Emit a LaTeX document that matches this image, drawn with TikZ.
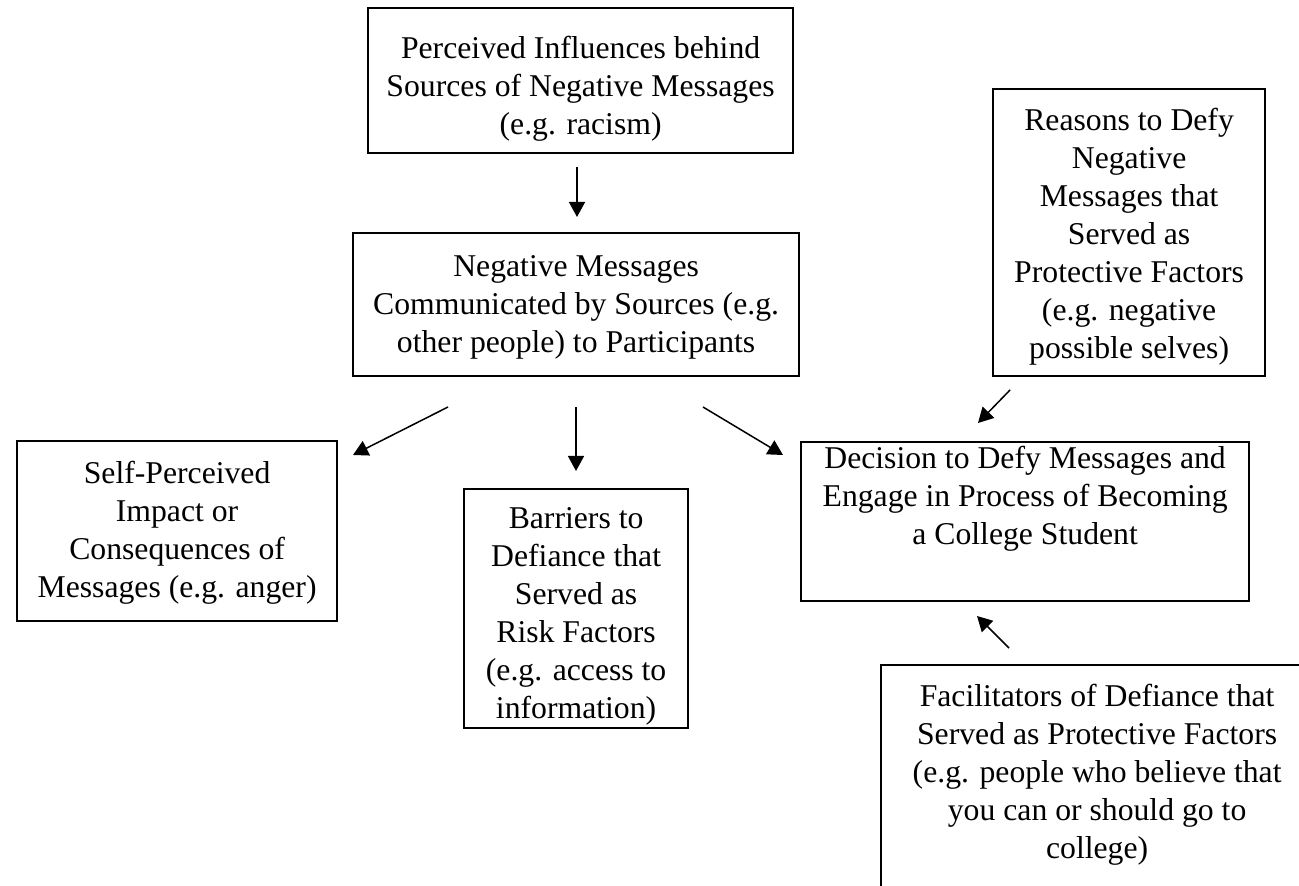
\documentclass[tikz,border=0pt]{standalone}
\usepackage{fontspec}
\setmainfont{Liberation Serif}
\usetikzlibrary{arrows.meta}
\newcommand{\boxtext}[4]{\parbox[t][#2][t]{#1}{\centering\vspace*{#3}\strut#4}}

\begin{document}
\begin{tikzpicture}[x=0.5pt, y=-0.5pt,
        box/.style={draw, line width=1.1pt, inner sep=0pt, anchor=north west,
            font=\fontsize{15.85pt}{19pt}\selectfont},
        arr/.style={-{Triangle[length=7.5pt, width=8pt]}, line width=0.75pt}]
            \useasboundingbox (0,0) rectangle (1299,886);
            \clip (0,0) rectangle (1299,886);

            \node[box] (infl) at (367,7) {\boxtext{212.5pt}{72.5pt}{11.7pt}{Perceived Influences behind\\Sources of Negative Messages\\(e.g. racism)}};
            \node[box] (msgs) at (352,232) {\boxtext{223pt}{71.5pt}{8.2pt}{Negative Messages\\Communicated by Sources (e.g.\\other people) to Participants}};
            \node[box] (self) at (16,440) {\boxtext{160pt}{90pt}{7.7pt}{Self-Perceived\\Impact or\\Consequences of\\Messages (e.g. anger)}};
            \node[box] (barr) at (463,488) {\boxtext{112pt}{119.5pt}{6.2pt}{Barriers to\\Defiance that\\Served as\\Risk Factors\\(e.g. access to\\information)}};
            \node[box] (reas) at (992,88) {\boxtext{136pt}{143.5pt}{7.2pt}{Reasons to Defy\\Negative\\Messages that\\Served as\\Protective Factors\\(e.g. negative\\possible selves)}};
            \node[box] (deci) at (800,441) {\boxtext{224pt}{79.5pt}{0pt}{Decision to Defy Messages and\\Engage in Process of Becoming\\a College Student}};
            \node[box] (faci) at (880,664) {\boxtext{216pt}{130pt}{7.2pt}{Facilitators of Defiance that\\Served as Protective Factors\\(e.g. people who believe that\\you can or should go to\\college)}};

            \coordinate (inflA) at (577,167);
            \coordinate (msgsA) at (577,217);
            \coordinate (leftA) at (448,407);
            \coordinate (selfA) at (353,455);
            \coordinate (downA) at (576,407);
            \coordinate (barrA) at (576,471);
            \coordinate (rightA) at (703,407);
            \coordinate (deciA) at (783,455);
            \coordinate (reasA) at (1010,390);
            \coordinate (deciB) at (978,423);
            \coordinate (faciA) at (1009,648);
            \coordinate (deciC) at (977,616);

            \draw[arr] (inflA) -- (msgsA);
            \draw[arr] (leftA) -- (selfA);
            \draw[arr] (downA) -- (barrA);
            \draw[arr] (rightA) -- (deciA);
            \draw[arr] (reasA) -- (deciB);
            \draw[arr] (faciA) -- (deciC);
        \end{tikzpicture}
\end{document}
